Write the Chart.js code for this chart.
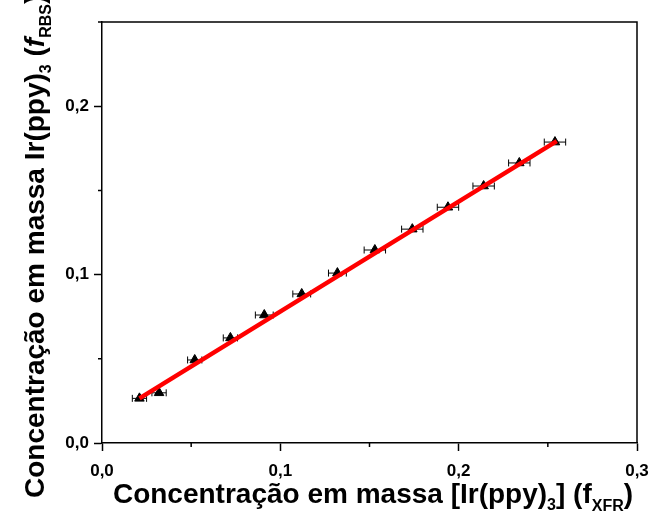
<!DOCTYPE html>
<html>
<head>
<meta charset="utf-8">
<script src="https://cdn.jsdelivr.net/npm/chart.js@4.4.1/dist/chart.umd.min.js"></script>
<style>
  html, body { margin: 0; padding: 0; background: #fff; }
  #wrap { width: 651px; height: 515px; }
</style>
</head>
<body>
<div id="wrap"><canvas id="c" width="651" height="515"></canvas></div>
<script>
// Mass concentration of Ir(ppy)3: XRF (x) versus RBS (y)
const xrfValues = [0.021, 0.032, 0.052, 0.072, 0.091, 0.112, 0.132, 0.153, 0.174, 0.194, 0.214, 0.234, 0.254];
const rbsValues = [0.0265, 0.0298, 0.0493, 0.0624, 0.0760, 0.0885, 0.1009, 0.1146, 0.1270, 0.1400, 0.1526, 0.1663, 0.1787];
const xrfErrors = [0.004, 0.004, 0.004, 0.004, 0.005, 0.005, 0.005, 0.006, 0.006, 0.006, 0.006, 0.006, 0.006];

// Linear fit endpoints
const fitX = [0.021, 0.255];
const fitY = [0.0265, 0.1793];

const xTickLabels = ['0,0', '0,1', '0,2', '0,3'];
const yTickLabels = ['0,0', '0,1', '0,2'];

const FONT = '"Liberation Sans", Arial, sans-serif';

const isMajor = v => Math.abs(v * 10 - Math.round(v * 10)) < 1e-6;

const points = xrfValues.map((x, i) => ({ x, y: rbsValues[i], e: xrfErrors[i] }));
const fitLine = fitX.map((x, i) => ({ x, y: fitY[i] }));

// Horizontal error bars with caps
const errorBars = {
  id: 'errorBars',
  beforeDatasetsDraw(chart) {
    const { ctx, scales: { x, y } } = chart;
    ctx.save();
    ctx.strokeStyle = '#000';
    ctx.lineWidth = 1;
    points.forEach(p => {
      const x0 = x.getPixelForValue(p.x - p.e);
      const x1 = x.getPixelForValue(p.x + p.e);
      const py = y.getPixelForValue(p.y);
      ctx.beginPath();
      ctx.moveTo(x0, py); ctx.lineTo(x1, py);
      ctx.moveTo(x0, py - 3.5); ctx.lineTo(x0, py + 3.5);
      ctx.moveTo(x1, py - 3.5); ctx.lineTo(x1, py + 3.5);
      ctx.stroke();
    });
    ctx.restore();
  }
};

// Frame, minor ticks and axis titles with subscripts
const frameAndTitles = {
  id: 'frameAndTitles',
  afterDraw(chart) {
    const { ctx, chartArea: a, scales: { x, y } } = chart;
    ctx.save();
    ctx.strokeStyle = '#000';
    ctx.lineWidth = 1.5;
    ctx.beginPath();
    ctx.moveTo(a.left, a.top); ctx.lineTo(a.right, a.top); ctx.lineTo(a.right, a.bottom);
    ctx.stroke();

    // minor ticks
    ctx.beginPath();
    x.ticks.forEach(t => {
      if (!isMajor(t.value)) {
        const px = x.getPixelForValue(t.value);
        ctx.moveTo(px, a.bottom); ctx.lineTo(px, a.bottom + 4);
      }
    });
    y.ticks.forEach(t => {
      if (!isMajor(t.value)) {
        const py = y.getPixelForValue(t.value);
        ctx.moveTo(a.left, py); ctx.lineTo(a.left - 4, py);
      }
    });
    ctx.stroke();

    ctx.fillStyle = '#000';
    ctx.textBaseline = 'alphabetic';
    const drawRuns = (runs, startX, baseY) => {
      let cx = startX;
      runs.forEach(r => {
        ctx.font = r.font;
        ctx.fillText(r.t, cx, baseY + (r.dy || 0));
        cx += ctx.measureText(r.t).width;
      });
      return cx - startX;
    };
    const measureRuns = runs => runs.reduce((w, r) => { ctx.font = r.font; return w + ctx.measureText(r.t).width; }, 0);

    const main = 'bold 28px ' + FONT;
    const sub = 'bold 16px ' + FONT;
    const xRuns = [
      { t: 'Concentração em massa [Ir(ppy)', font: main },
      { t: '3', font: sub, dy: 7 },
      { t: '] (f', font: main },
      { t: 'XFR', font: sub, dy: 8 },
      { t: ')', font: main }
    ];
    const xw = measureRuns(xRuns);
    drawRuns(xRuns, 373 - xw / 2, 503);

    const ymain = 'bold 28px ' + FONT;
    const ysub = 'bold 16px ' + FONT;
    const yRuns = [
      { t: 'Concentração em massa Ir(ppy)', font: ymain },
      { t: '3', font: ysub, dy: 7 },
      { t: ' (', font: ymain },
      { t: 'f', font: 'italic bold 28px ' + FONT },
      { t: 'RBS', font: ysub, dy: 7 },
      { t: ')', font: ymain }
    ];
    ctx.translate(44, 498);
    ctx.rotate(-Math.PI / 2);
    drawRuns(yRuns, 0, 0);
    ctx.restore();
  }
};

const tickFont = { family: FONT, size: 17, weight: 'bold' };

new Chart(document.getElementById('c'), {
  type: 'scatter',
  data: {
    datasets: [
      {
        label: 'Ajuste linear',
        type: 'line',
        data: fitLine,
        borderColor: '#ff0000',
        borderWidth: 4.5,
        pointRadius: 0,
        fill: false,
        order: 0
      },
      {
        label: 'Ir(ppy)3',
        data: points,
        pointStyle: 'triangle',
        pointRadius: 5.5,
        backgroundColor: '#000',
        borderColor: '#000',
        borderWidth: 1,
        order: 1
      }
    ]
  },
  options: {
    responsive: false,
    animation: false,
    layout: { padding: { left: 0, top: 22, right: 14, bottom: 0 } },
    plugins: { legend: { display: false }, tooltip: { enabled: false } },
    scales: {
      x: {
        type: 'linear',
        min: 0, max: 0.3,
        afterFit(s) { s.height = 72; s.paddingLeft = 0; s.paddingRight = 0; },
        ticks: {
          stepSize: 0.05,
          autoSkip: false,
          maxRotation: 0,
          padding: 10,
          color: '#000',
          font: tickFont,
          callback: v => isMajor(v) ? xTickLabels[Math.round(v * 10)] : ''
        },
        grid: {
          drawOnChartArea: false,
          tickLength: 8,
          tickWidth: 1.5,
          tickColor: c => (c.tick && isMajor(c.tick.value)) ? '#000' : 'rgba(0,0,0,0)'
        },
        border: { display: true, color: '#000', width: 1.5 }
      },
      y: {
        type: 'linear',
        min: 0, max: 0.25,
        afterFit(s) { s.width = 102; s.paddingTop = 0; s.paddingBottom = 0; },
        ticks: {
          stepSize: 0.05,
          autoSkip: false,
          padding: 5,
          color: '#000',
          font: tickFont,
          callback: v => isMajor(v) ? yTickLabels[Math.round(v * 10)] : ''
        },
        grid: {
          drawOnChartArea: false,
          tickLength: 8,
          tickWidth: 1.5,
          tickColor: c => (c.tick && isMajor(c.tick.value)) ? '#000' : 'rgba(0,0,0,0)'
        },
        border: { display: true, color: '#000', width: 1.5 }
      }
    }
  },
  plugins: [errorBars, frameAndTitles]
});
</script>
</body>
</html>
